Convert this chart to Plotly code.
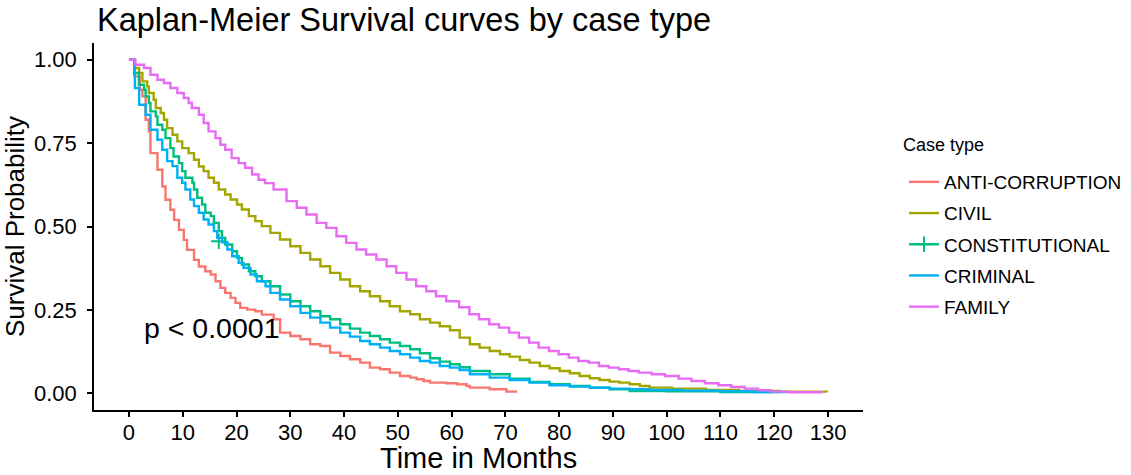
import plotly.graph_objects as go

# ---------------- data ----------------
categories = ["ANTI-CORRUPTION", "CIVIL", "CONSTITUTIONAL", "CRIMINAL", "FAMILY"]

anti_t = [0, 1.0, 2.0, 2.5, 3.1, 3.7, 4.0, 5.3, 6.2, 6.8, 7.7, 8.4, 9.3, 10.2, 10.8, 12.1, 13.0,
          14.2, 15.2, 16.1, 17.0, 17.9, 18.9, 19.8, 20.7, 22.0, 23.5, 24.7, 26.9, 28.1, 30.0, 31.9,
          33.7, 35.6, 37.4, 39.3, 41.1, 43.0, 44.8, 46.7, 48.5, 50.4, 52.3, 53.5, 54.8, 56.0, 59.0,
          61.0, 62.8, 63.4, 67.1, 70.2, 72.2]
anti_s = [1.0, 0.95, 0.91, 0.89, 0.82, 0.785, 0.72, 0.67, 0.62, 0.58, 0.55, 0.52, 0.49, 0.46, 0.43,
          0.40, 0.38, 0.366, 0.356, 0.336, 0.316, 0.301, 0.286, 0.271, 0.256, 0.251, 0.246, 0.236,
          0.222, 0.182, 0.172, 0.162, 0.147, 0.142, 0.122, 0.112, 0.102, 0.092, 0.077, 0.072, 0.062,
          0.052, 0.047, 0.042, 0.037, 0.032, 0.030, 0.027, 0.022, 0.017, 0.012, 0.005, 0.005]

civil_t = [0, 1.0, 1.9, 2.5, 3.4, 3.7, 4.6, 5.0, 5.9, 6.5, 7.1, 8.1, 9.0, 9.9, 11.1, 12.1, 13.0,
           13.9, 14.8, 15.8, 16.7, 17.9, 18.9, 20.1, 21.0, 22.3, 23.5, 24.7, 26.3, 28.1, 30.0, 31.9,
           33.7, 35.6, 37.4, 39.3, 41.1, 43.0, 44.8, 46.7, 48.5, 50.4, 52.3, 54.1, 56.0, 57.8, 59.7,
           61.5, 63.4, 65.2, 67.1, 69.0, 70.8, 72.7, 74.5, 76.4, 78.2, 80.1, 82.0, 83.8, 85.7, 87.5,
           89.4, 91.2, 93.1, 95.0, 96.8, 101.0, 107.3, 113.5, 121.0, 129.8]
civil_s = [1.0, 0.975, 0.96, 0.935, 0.92, 0.90, 0.88, 0.855, 0.84, 0.82, 0.795, 0.775, 0.755, 0.735,
           0.72, 0.70, 0.68, 0.666, 0.646, 0.631, 0.611, 0.596, 0.581, 0.566, 0.551, 0.531, 0.516,
           0.501, 0.481, 0.461, 0.441, 0.421, 0.401, 0.381, 0.361, 0.341, 0.321, 0.306, 0.291, 0.276,
           0.261, 0.246, 0.237, 0.222, 0.212, 0.201, 0.189, 0.167, 0.147, 0.137, 0.127, 0.117, 0.110,
           0.100, 0.092, 0.082, 0.075, 0.067, 0.060, 0.052, 0.045, 0.040, 0.035, 0.032, 0.027, 0.022,
           0.017, 0.014, 0.010, 0.007, 0.005, 0.003]

const_t = [0, 1.0, 1.85, 2.8, 3.1, 3.7, 4.0, 5.0, 5.3, 6.2, 6.8, 7.7, 8.3, 9.3, 9.9, 10.5, 11.8,
           12.1, 12.7, 13.6, 14.2, 15.2, 15.8, 16.7, 17.3, 17.9, 19.2, 20.1, 21.0, 22.3, 23.5, 24.7,
           26.3, 28.1, 30.0, 31.9, 33.7, 35.6, 37.4, 39.3, 41.1, 43.0, 44.8, 46.7, 48.5, 50.4, 52.3,
           54.1, 56.0, 57.8, 59.7, 61.5, 63.4, 67.1, 70.8, 74.5, 78.2, 82.0, 85.7, 89.4, 93.1, 100.0,
           110.0, 121.0]
const_s = [1.0, 0.96, 0.925, 0.91, 0.89, 0.87, 0.845, 0.83, 0.805, 0.79, 0.765, 0.735, 0.71, 0.69,
           0.666, 0.646, 0.631, 0.611, 0.586, 0.566, 0.541, 0.531, 0.511, 0.486, 0.466, 0.446, 0.426,
           0.406, 0.386, 0.366, 0.351, 0.336, 0.321, 0.296, 0.276, 0.261, 0.246, 0.231, 0.222, 0.207,
           0.194, 0.182, 0.172, 0.162, 0.152, 0.142, 0.132, 0.120, 0.105, 0.095, 0.087, 0.078, 0.067,
           0.057, 0.044, 0.034, 0.027, 0.022, 0.017, 0.012, 0.007, 0.006, 0.004, 0.003]

crim_t = [0, 1.1, 1.9, 3.1, 4.0, 5.3, 6.2, 7.1, 8.1, 9.0, 9.9, 10.5, 11.4, 12.1, 13.0, 13.9, 14.8,
          15.8, 16.4, 17.3, 18.3, 19.2, 20.4, 21.3, 22.6, 23.8, 25.4, 26.3, 28.1, 30.0, 31.9, 33.7,
          35.6, 37.4, 39.3, 41.1, 43.0, 44.8, 46.7, 48.5, 50.4, 52.3, 54.1, 56.0, 57.8, 59.7, 61.5,
          63.4, 67.1, 70.8, 74.5, 78.2, 82.0, 85.7, 89.4, 93.1, 96.8, 103.0, 110.0, 116.0, 122.0]
crim_s = [1.0, 0.915, 0.865, 0.835, 0.79, 0.76, 0.73, 0.696, 0.681, 0.646, 0.631, 0.611, 0.581,
          0.561, 0.541, 0.521, 0.506, 0.486, 0.466, 0.453, 0.431, 0.411, 0.391, 0.376, 0.356, 0.336,
          0.321, 0.301, 0.281, 0.261, 0.241, 0.227, 0.212, 0.197, 0.182, 0.170, 0.157, 0.147, 0.137,
          0.127, 0.117, 0.107, 0.097, 0.092, 0.082, 0.077, 0.070, 0.057, 0.047, 0.040, 0.032, 0.024,
          0.020, 0.017, 0.014, 0.012, 0.010, 0.008, 0.006, 0.004, 0.003]

fam_t = [0, 1.2, 2.8, 4.0, 5.3, 6.5, 7.7, 9.0, 10.2, 11.1, 11.7, 13.0, 13.9, 14.8, 16.1, 17.0, 17.9,
         19.1, 20.4, 21.6, 22.9, 24.1, 25.3, 26.9, 29.3, 31.2, 33.0, 34.9, 36.7, 38.6, 40.4, 42.3,
         44.1, 46.0, 47.9, 49.7, 51.6, 53.4, 55.3, 57.1, 59.0, 61.4, 63.3, 65.1, 67.0, 68.8, 70.7,
         72.5, 74.4, 76.2, 78.1, 79.9, 81.8, 83.6, 85.5, 87.4, 89.2, 91.1, 92.9, 94.8, 97.2, 99.7,
         102.2, 104.6, 107.1, 109.6, 112.0, 114.5, 117.0, 119.4, 122.5, 129.0]
fam_s = [1.0, 0.985, 0.975, 0.955, 0.94, 0.93, 0.915, 0.90, 0.885, 0.87, 0.855, 0.835, 0.81, 0.785,
         0.765, 0.745, 0.73, 0.705, 0.69, 0.676, 0.656, 0.64, 0.63, 0.611, 0.576, 0.556, 0.536,
         0.511, 0.496, 0.471, 0.451, 0.431, 0.416, 0.401, 0.381, 0.361, 0.341, 0.321, 0.306, 0.291,
         0.276, 0.258, 0.237, 0.222, 0.207, 0.197, 0.182, 0.167, 0.152, 0.137, 0.127, 0.117, 0.107,
         0.097, 0.092, 0.082, 0.077, 0.072, 0.067, 0.062, 0.057, 0.052, 0.044, 0.037, 0.030, 0.024,
         0.019, 0.014, 0.009, 0.005, 0.003, 0.003]

# censoring mark visible on the CONSTITUTIONAL curve
censor_t = [16.7]
censor_s = [0.456]

x_ticks = [0, 10, 20, 30, 40, 50, 60, 70, 80, 90, 100, 110, 120, 130]
y_ticks = [0, 0.25, 0.5, 0.75, 1.0]
p_text = "p < 0.0001"
p_pos = (2.4, 0.195)

colors = ["#F8766D", "#A3A500", "#00BF7D", "#00B0F6", "#E76BF3"]
series_t = [anti_t, civil_t, const_t, crim_t, fam_t]
series_s = [anti_s, civil_s, const_s, crim_s, fam_s]

FONT = "Liberation Sans, Arial, sans-serif"
LW = 2.4

W, H = 1131, 475
ML, MR, MT, MB = 94, 268, 43, 65
PW, PH = W - ML - MR, H - MT - MB

fig = go.Figure()
for name, col, ts, ss in zip(categories, colors, series_t, series_s):
    is_const = name == "CONSTITUTIONAL"
    fig.add_trace(go.Scatter(
        x=ts, y=ss, mode="lines", name=name, legendgroup=name,
        line=dict(color=col, width=LW, shape="hv"),
        showlegend=not is_const, hoverinfo="skip"))
    if is_const:
        fig.add_trace(go.Scatter(
            x=censor_t, y=censor_s, mode="lines+markers", name=name, legendgroup=name,
            line=dict(color=col, width=LW),
            marker=dict(symbol="cross-thin", size=11, color=col,
                        line=dict(color=col, width=2)),
            showlegend=True, hoverinfo="skip"))

fig.add_annotation(x=p_pos[0], y=p_pos[1], xref="x", yref="y", text=p_text,
                   showarrow=False, xanchor="left", yanchor="middle",
                   font=dict(family=FONT, size=28.5, color="black"))

# legend title drawn as text so its spacing to the entries can match
fig.add_annotation(x=(901 - ML) / PW, y=(H - MB - 145) / PH, xref="paper", yref="paper",
                   text="Case type", showarrow=False, xanchor="left", yanchor="middle",
                   font=dict(family=FONT, size=18, color="black"))

# x-axis title placed as text below the tick labels
fig.add_annotation(x=0.5, y=-(475 - (H - MB)) / PH, xref="paper", yref="paper",
                   text="Time in Months", showarrow=False, xanchor="center", yanchor="bottom",
                   borderpad=0, font=dict(family=FONT, size=29, color="black"))

fig.update_layout(
    width=W, height=H,
    margin=dict(l=ML, r=MR, t=MT, b=MB, autoexpand=False),
    plot_bgcolor="white", paper_bgcolor="white",
    font=dict(family=FONT, color="black"),
    title=dict(text="Kaplan-Meier Survival curves by case type",
               x=97 / W, xref="container", xanchor="left",
               y=1 - 20 / H, yref="container", yanchor="middle",
               font=dict(family=FONT, size=32.5, color="black")),
    legend=dict(
        font=dict(family=FONT, size=19, color="black"),
        x=904 / W, xref="container", xanchor="left",
        y=1 - 163 / H, yref="container", yanchor="top",
        tracegroupgap=3.5, bgcolor="rgba(0,0,0,0)", borderwidth=0,
        traceorder="grouped"),
    showlegend=True,
)
fig.update_xaxes(
    range=[-6.5, 136.5], tickvals=x_ticks, ticktext=[str(v) for v in x_ticks],
    showline=True, linecolor="black", linewidth=1.5, mirror=False,
    ticks="outside", ticklen=5, tickwidth=1.5, tickcolor="black",
    showgrid=False, zeroline=False, automargin=False, ticklabelstandoff=-3,
    tickfont=dict(family=FONT, size=22, color="black"),
)
fig.update_yaxes(
    range=[-0.05, 1.05], tickvals=y_ticks, ticktext=[f"{v:.2f}" for v in y_ticks],
    showline=True, linecolor="black", linewidth=1.5, mirror=False,
    ticks="outside", ticklen=5, tickwidth=1.5, tickcolor="black",
    showgrid=False, zeroline=False, automargin=False, ticklabelstandoff=6,
    tickfont=dict(family=FONT, size=22, color="black"),
    title=dict(text="Survival Probability", font=dict(family=FONT, size=26, color="black"), standoff=4),
)

fig.write_html("out.html")
